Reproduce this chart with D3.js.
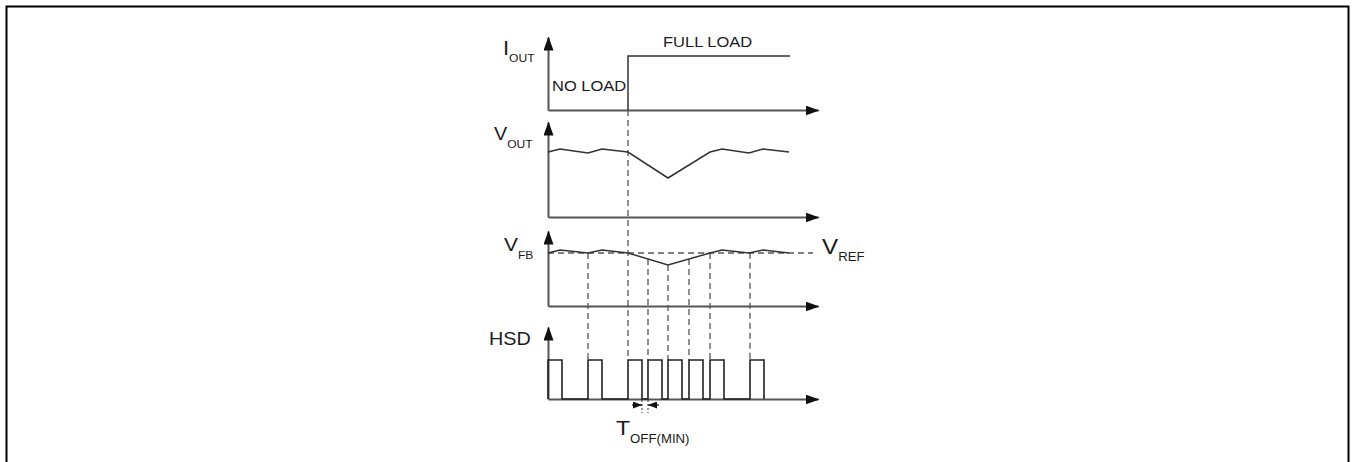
<!DOCTYPE html>
<html>
<head>
<meta charset="utf-8">
<script src="https://cdn.jsdelivr.net/npm/d3@7"></script>
<style>
  html, body { margin: 0; padding: 0; background: #fff; }
  svg { display: block; }
  text { font-family: "Liberation Sans", Arial, sans-serif; fill: #1a1a1a; }
</style>
</head>
<body>
<svg id="chart" width="1352" height="462"></svg>
<script>
// ---- data ----
const timeDomain = [0, 27];
const ioutTimes = [8, 8, 24.2];
const ioutLevels = [0, 1, 1];
const loadStepTime = 8;
const waveTimes = [0, 1.2, 4, 5.4, 8, 12, 16.2, 17.4, 20.1, 21.5, 24.1];
const voutValues = [65, 68, 64, 68, 65, 39, 65, 68, 64, 68, 65];
const vfbValues = [53, 56, 53, 56, 53, 41, 53, 56, 53, 56, 53];
const vrefValue = 53;
const pulseStarts = [0, 4, 8, 10, 12, 14.1, 16.2, 20.2];
const pulseWidth = 1.4;
const toffPulseIndex = 2;
const labels = { iout: ["I", "OUT"], vout: ["V", "OUT"], vfb: ["V", "FB"], hsd: "HSD", vref: ["V", "REF"], toff: ["T", "OFF(MIN)"], full: "FULL LOAD", none: "NO LOAD" };

// ---- layout ----
const svg = d3.select("#chart");
svg.append("rect").attr("x", 6.5).attr("y", 6.5).attr("width", 1342).attr("height", 480)
  .attr("fill", "none").attr("stroke", "#000").attr("stroke-width", 2);

const x = d3.scaleLinear().domain(timeDomain).range([548, 818]);

const defs = svg.append("defs");
defs.append("marker").attr("id", "arr").attr("viewBox", "0 0 14 10")
  .attr("refX", 13).attr("refY", 5).attr("markerWidth", 14).attr("markerHeight", 10)
  .attr("markerUnits", "userSpaceOnUse").attr("orient", "auto")
  .append("path").attr("d", "M0,0 L14,5 L0,10 Z").attr("fill", "#111");
defs.append("marker").attr("id", "arrS").attr("viewBox", "0 0 9 7")
  .attr("refX", 9).attr("refY", 3.5).attr("markerWidth", 9).attr("markerHeight", 7)
  .attr("markerUnits", "userSpaceOnUse").attr("orient", "auto")
  .append("path").attr("d", "M0,0 L9,3.5 L0,7 Z").attr("fill", "#111");

// panel scales
const yI = d3.scaleLinear().domain([0, 1]).range([110, 56]);
const yVo = d3.scaleLinear().domain([0, 100]).range([217, 117]);
const yFb = d3.scaleLinear().domain([0, 100]).range([306, 206]);
const yH = d3.scaleLinear().domain([0, 1]).range([399, 360]);
const axisTops = [37, 122, 231, 327];
const baselines = [yI(0), yVo(0), yFb(0), yH(0)];

// axes (no ticks) with arrowheads
baselines.forEach((b, i) => {
  const g = svg.append("g");
  const ax = g.append("g").attr("transform", `translate(0,${b})`)
    .call(d3.axisBottom(x).ticks(0).tickSizeOuter(0));
  ax.select(".domain").attr("stroke", "#555").attr("stroke-width", 2)
    .attr("marker-end", "url(#arr)");
  const yAx = d3.scaleLinear().domain([0, 1]).range([b, axisTops[i]]);
  const ay = g.append("g").attr("transform", `translate(${x(0)},0)`)
    .call(d3.axisLeft(yAx).ticks(0).tickSizeOuter(0));
  ay.select(".domain").attr("stroke", "#555").attr("stroke-width", 2)
    .attr("marker-end", "url(#arr)");
});

// dashed guides
const dash = svg.append("g").attr("stroke", "#555").attr("stroke-width", 1.3)
  .attr("stroke-dasharray", "6,4").attr("fill", "none");
const interpFb = t => {
  for (let i = 1; i < waveTimes.length; i++) {
    if (t <= waveTimes[i]) {
      const f = (t - waveTimes[i - 1]) / (waveTimes[i] - waveTimes[i - 1]);
      return vfbValues[i - 1] + f * (vfbValues[i] - vfbValues[i - 1]);
    }
  }
  return vfbValues[vfbValues.length - 1];
};
dash.append("line").attr("x1", x(timeDomain[0])).attr("x2", x(timeDomain[1]) - 5)
  .attr("y1", yFb(vrefValue)).attr("y2", yFb(vrefValue));
pulseStarts.filter(t => t > 0).forEach(t => {
  const yStart = t === loadStepTime ? yI(0) : yFb(interpFb(t));
  dash.append("line").attr("x1", x(t)).attr("x2", x(t)).attr("y1", yStart).attr("y2", yH(1));
});

// waveforms
const lineStyle = sel => sel.attr("fill", "none").attr("stroke", "#333").attr("stroke-width", 1.5).attr("stroke-linejoin", "miter");
const stepLine = d3.line().x((d, i) => x(ioutTimes[i])).y(d => yI(d));
svg.append("path").attr("d", stepLine(ioutLevels)).call(lineStyle);
const voutLine = d3.line().x((d, i) => x(waveTimes[i])).y(d => yVo(d));
svg.append("path").attr("d", voutLine(voutValues)).call(lineStyle);
const vfbLine = d3.line().x((d, i) => x(waveTimes[i])).y(d => yFb(d));
svg.append("path").attr("d", vfbLine(vfbValues)).call(lineStyle);

// pulses
const pulsePts = [];
pulseStarts.forEach(t => {
  pulsePts.push([t, 0], [t, 1], [t + pulseWidth, 1], [t + pulseWidth, 0]);
});
svg.append("path").attr("d", d3.line().x(d => x(d[0])).y(d => yH(d[1]))(pulsePts))
  .attr("fill", "none").attr("stroke", "#222").attr("stroke-width", 1.6);

// TOFF(MIN) annotation
const tA = pulseStarts[toffPulseIndex] + pulseWidth, tB = pulseStarts[toffPulseIndex + 1];
const ann = svg.append("g");
ann.append("line").attr("x1", x(tA) - 10).attr("x2", x(tA)).attr("y1", 405).attr("y2", 405)
  .attr("stroke", "#111").attr("stroke-width", 1.2).attr("marker-end", "url(#arrS)");
ann.append("line").attr("x1", x(tB) + 11).attr("x2", x(tB)).attr("y1", 405).attr("y2", 405)
  .attr("stroke", "#111").attr("stroke-width", 1.2).attr("marker-end", "url(#arrS)");
[tA, tB].forEach(t => ann.append("line").attr("x1", x(t)).attr("x2", x(t)).attr("y1", 400).attr("y2", 413)
  .attr("stroke", "#333").attr("stroke-width", 1).attr("stroke-dasharray", "2,2"));

// labels
function subLabel(px, py, main, sub, mainSize, subSize, dy) {
  const t = svg.append("text").attr("transform", `translate(${px},${py}) scale(1.1,1)`);
  t.append("tspan").attr("font-size", mainSize).text(main);
  t.append("tspan").attr("font-size", subSize).attr("dy", dy).text(sub);
}
subLabel(503, 55, labels.iout[0], labels.iout[1], 20, 11, 7);
subLabel(494, 140, labels.vout[0], labels.vout[1], 18, 11, 8);
subLabel(504, 251, labels.vfb[0], labels.vfb[1], 19, 11, 8);
subLabel(822, 254, labels.vref[0], labels.vref[1], 22, 12, 7);
subLabel(616, 435, labels.toff[0], labels.toff[1], 21, 12, 8);
svg.append("text").attr("transform", "translate(489,345) scale(1.1,1)").attr("font-size", 18).text(labels.hsd);
svg.append("text").attr("transform", "translate(663,47) scale(1.1,1)").attr("font-size", 15).text(labels.full);
svg.append("text").attr("transform", "translate(552,91) scale(1.1,1)").attr("font-size", 15).text(labels.none);
</script>
</body>
</html>
